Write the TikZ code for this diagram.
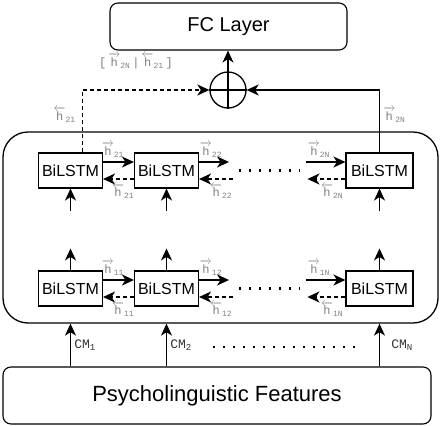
\documentclass[tikz,border=0pt]{standalone}
\usepackage{fontspec}
\setsansfont{Liberation Sans}
\setmonofont{Liberation Mono}
\usepackage{amsmath}
\usetikzlibrary{arrows.meta}

\begin{document}
\begin{tikzpicture}[x=1pt, y=-1pt,
    lstm/.style={draw, line width=1.1pt, minimum width=64pt, minimum height=35pt, inner sep=0pt, font=\sffamily\fontsize{16}{16}\selectfont},
    bigbox/.style={draw, line width=1.1pt, rounded corners=8pt, inner sep=0pt},
    fwd/.style={-{Stealth[length=12pt,width=11pt,inset=3.5pt]}, line width=1.5pt},
    bwd/.style={fwd, dash pattern=on 4pt off 3pt},
    hlab/.style={text=gray, font=\ttfamily\fontsize{12}{12}\selectfont, inner sep=0pt},
    cmlab/.style={text=black!80, font=\ttfamily\fontsize{13}{13}\selectfont, inner sep=0pt},
    dotrow/.style={line width=2.2pt, dash pattern=on 2pt off 8pt}]
\useasboundingbox (0,0) rectangle (440,426);

% outer blocks
\node[bigbox, minimum width=237pt, minimum height=47pt, font=\sffamily\fontsize{20}{20}\selectfont] (fc) at (228.5,26.5) {FC Layer};
\node[bigbox, minimum width=428pt, minimum height=57pt, font=\sffamily\fontsize{22}{22}\selectfont] (feat) at (217,395.5) {Psycholinguistic Features};
\node[draw, line width=1.3pt, rounded corners=25pt, minimum width=435pt, minimum height=191pt] (outer) at (220.5,227.5) {};
\node[draw, circle, line width=1.3pt, minimum size=36pt, inner sep=0pt] (plus) at (228,90) {};
\draw[line width=1.3pt] (plus.north) -- (plus.south) (plus.west) -- (plus.east);

% BiLSTM cells
\node[lstm] (a1) at (70.5,170.5) {BiLSTM};
\node[lstm] (a2) at (166.5,170.5) {BiLSTM};
\node[lstm, minimum width=67pt] (aN) at (379.5,170.5) {BiLSTM};
\node[lstm] (b1) at (70.5,288.5) {BiLSTM};
\node[lstm] (b2) at (166.5,288.5) {BiLSTM};
\node[lstm, minimum width=67pt] (bN) at (379.5,288.5) {BiLSTM};

% hidden states along each row
\foreach \r/\k in {a/2, b/1} {
  \draw[fwd] ([yshift=8.5pt]\r1.east) -- ([yshift=8.5pt]\r2.west)
    node[hlab, pos=0.32, above=4pt] {$\overrightarrow{\texttt{h}}_{\texttt{\k1}}$};
  \draw[bwd] ([yshift=-8.5pt]\r2.west) -- ([yshift=-8.5pt]\r1.east)
    node[hlab, pos=0.35, below=4pt] {$\overleftarrow{\texttt{h}}_{\texttt{\k1}}$};
  \draw[fwd] ([yshift=8.5pt]\r2.east) -- ++(30,0)
    node[hlab, pos=0.4, above=4pt] {$\overrightarrow{\texttt{h}}_{\texttt{\k2}}$};
  \draw[bwd] ([yshift=-8.5pt]\r2.east) ++(34,0) -- ([yshift=-8.5pt]\r2.east)
    node[hlab, pos=0.35, below=4pt] {$\overleftarrow{\texttt{h}}_{\texttt{\k2}}$};
  \draw[dotrow] ([xshift=40pt]\r2.east) -- ([xshift=-46pt]\r N.west);
  \draw[fwd] ([yshift=8.5pt]\r N.west) ++(-39,0) -- ([yshift=8.5pt]\r N.west)
    node[hlab, pos=0.32, above=4pt] {$\overrightarrow{\texttt{h}}_{\texttt{\k N}}$};
  \draw[bwd] ([yshift=-8.5pt]\r N.west) -- ++(-38,0)
    node[hlab, pos=0.35, below=4pt] {$\overleftarrow{\texttt{h}}_{\texttt{\k N}}$};
}

% vertical flow
\foreach \c in {1, 2, N} {
  \draw[fwd] (b\c.north) -- ([yshift=22pt]b\c.north);
  \draw[fwd] ([yshift=-22pt]a\c.south) -- (a\c.south);
}
\draw[fwd] (feat.north -| a1) -- (outer.south -| a1)
  node[cmlab, midway, right=3pt] {CM$_{\texttt{1}}$};
\draw[fwd] (feat.north -| a2) -- (outer.south -| a2)
  node[cmlab, midway, right=3pt] {CM$_{\texttt{2}}$};
\draw[fwd] (feat.north -| aN) -- (outer.south -| aN)
  node[cmlab, midway, right=11pt] {CM$_{\texttt{N}}$};
\draw[dotrow] (213,347) -- (360,347);

% concatenation
\draw[bwd] ([xshift=12pt]a1.north) |- (plus.west)
  node[hlab, pos=0.3, left=6pt] {$\overleftarrow{\texttt{h}}_{\texttt{21}}$};
\draw[fwd] (aN.north) |- (plus.east)
  node[hlab, pos=0.3, right=3pt] {$\overrightarrow{\texttt{h}}_{\texttt{2N}}$};
\draw[fwd] (plus.north) -- (plus.north |- fc.south);
\node[hlab] (cat) at (136,61) {[\,$\overrightarrow{\texttt{h}}_{\texttt{2N}}$\,|\,$\overleftarrow{\texttt{h}}_{\texttt{21}}$\,]};
\end{tikzpicture}
\end{document}
